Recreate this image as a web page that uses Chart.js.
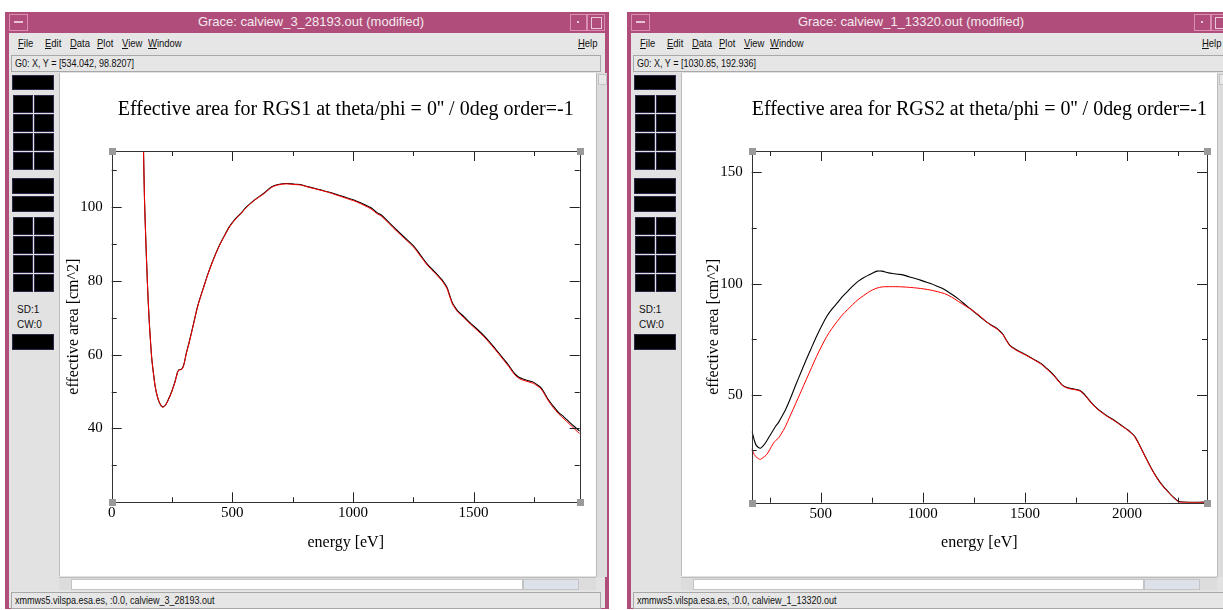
<!DOCTYPE html>
<html>
<head>
<meta charset="utf-8">
<script src="https://cdn.jsdelivr.net/npm/chart.js@4/dist/chart.umd.min.js"></script>
<style>
  body { margin: 0; width: 1223px; height: 610px; overflow: hidden; background: #fff; position: relative;
         font-family: "Liberation Sans", Arial, sans-serif; }
  .win { position: absolute; top: 12px; height: 597px; background: #b14d7a; }
  .win div, .win span, .win canvas { position: absolute; }
  .inner { left: 4px; top: 21px; height: 575px; background: #e2e2e2; }
  .btnl { left: 4px; top: 2px; width: 17px; height: 15px; border: 1px solid #d98fb0; }
  .btnl i { position: absolute; left: 4px; top: 6px; width: 9px; height: 2px; background: #e9c3d4; }
  .btnr1 { top: 2px; width: 15px; height: 15px; border: 1px solid #d98fb0; }
  .btnr1 i { position: absolute; left: 6px; top: 6px; width: 2px; height: 2px; background: #ecc8d8; }
  .btnr2 { top: 2px; width: 16px; height: 15px; border: 1px solid #d98fb0; }
  .btnr2 i { position: absolute; left: 3px; top: 2px; width: 9px; height: 10px; border: 1px solid #ecc8d8; }
  .ttl { top: 1px; line-height: 18px; font-size: 13px; color: #f3ebef; white-space: nowrap; transform: translateX(-50%); }
  .menu { left: 4px; top: 21px; height: 20px; background: #e6e6e6; font-size: 11px; line-height: 20px; color: #111; }
  .menu span { top: 0; transform: scaleX(0.86); transform-origin: left center; }
  .g0 { left: 4px; top: 42px; height: 18px; background: #e6e6e6; }
  .field { left: 2px; top: 1px; height: 15px; border: 1px solid #a8a8a8; font-size: 10px; line-height: 15px;
           padding-left: 3px; color: #111; white-space: nowrap; }
  .field span { position: static !important; display: inline-block; transform: scaleX(0.9); transform-origin: left center; }
  .tools { left: 4px; top: 60px; width: 50px; height: 519px; background: #e2e2e2; }
  .b { background: #000; border: 1px solid #2a2a48; box-sizing: border-box; }
  .lab { font-size: 10px; color: #111; }
  .cv { top: 61px; height: 503px; background: #fff; border-left: 1px solid #bbb; }
  .vs { top: 61px; height: 504px; width: 10px; background: #dcdcdc; border-left: 1px solid #bbb; }
  .vs i { position: absolute; left: 1px; top: 1px; width: 7px; height: 9px; border: 1px solid #c4c4c4; background: #e8e8e8; }
  .hs { left: 54px; top: 565px; height: 12px; background: #dcdcdc; border-top: 1px solid #bbb; }
  .trough { top: 1px; height: 9px; background: #fff; border: 1px solid #c4c4c4; }
  .thumb { top: 1px; height: 9px; background: #dde2ea; border: 1px solid #c4c4c4; }
  .foot { left: 4px; top: 579px; height: 17px; background: #e6e6e6; }
</style>
</head>
<body>

<div class="win" id="w1" style="left:5px; width:604px;"></div>
<div class="win" id="w2" style="left:627px; width:606px;"></div>

<script>
// ---- RGS1 (left window) ----
const rgs1Energy = [128, 132, 136, 142, 148, 154, 160, 166, 173, 180, 188, 198, 210, 222, 235, 248, 262, 272, 278, 290,
  298, 310, 320, 340, 356, 380, 400, 420, 444, 466, 488, 510, 532, 560, 591, 628, 664, 690, 723, 760,
  782, 810, 840, 870, 899, 930, 958, 990, 1016, 1045, 1075, 1100, 1119, 1150, 1178, 1215, 1251, 1280, 1309, 1340,
  1368, 1380, 1390, 1400, 1412, 1425, 1434, 1460, 1485, 1515, 1544, 1575, 1603, 1625, 1647, 1665, 1676, 1690, 1705, 1730,
  1749, 1765, 1779, 1795, 1808, 1830, 1852, 1875, 1896, 1920, 1940, 1951];
const rgs1Red = [125, 115, 102, 90, 79.5, 71, 64.5, 59, 55, 51.5, 49, 47, 45.8, 46.2, 47.8, 49.8, 52.5, 55, 55.8, 56,
  57, 60.5, 63, 68.5, 73, 78, 82, 85.5, 89.2, 92, 94.6, 96.5, 98, 100, 101.8, 103.5, 105.4, 106, 106.3, 106.1,
  106, 105.5, 105, 104.5, 104, 103.3, 102.7, 102, 101.4, 100.5, 99.5, 98.2, 97.5, 95.5, 93.7, 91.4, 89.2, 86.7, 84.2, 82.1,
  80.1, 79, 77.9, 76, 73.8, 72.4, 71.6, 70, 68.4, 66.6, 64.8, 62.5, 60.3, 58.5, 56.7, 55, 54.2, 53.5, 53.1, 52.6,
  52.2, 51.5, 50.8, 49.2, 47.7, 45.7, 44, 42.6, 41.3, 39.8, 38.6, 38.2];
const rgs1Black = [125, 115, 102, 90, 79.5, 71, 64.5, 59, 55, 51.5, 49, 47, 45.9, 46.3, 47.9, 49.9, 52.6, 55.1, 55.9, 56.1,
  57.1, 60.6, 63.1, 68.6, 73.1, 78.1, 82.1, 85.6, 89.3, 92.1, 94.7, 96.6, 98.1, 100.1, 101.9, 103.6, 105.5, 106.1, 106.4, 106.2,
  106.1, 105.6, 105.1, 104.6, 104.1, 103.5, 102.9, 102.2, 101.6, 100.8, 99.8, 98.5, 97.8, 95.8, 94, 91.7, 89.5, 87, 84.5, 82.4,
  80.4, 79.3, 78.2, 76.3, 74.1, 72.7, 71.9, 70.3, 68.7, 66.9, 65.1, 62.8, 60.6, 58.8, 57, 55.3, 54.5, 53.8, 53.4, 52.9,
  52.5, 51.8, 51.1, 49.5, 48, 46.1, 44.4, 43.1, 41.8, 40.4, 39.3, 38.9];
const rgs1XTicks = [0, 250, 500, 750, 1000, 1250, 1500, 1750];
const rgs1YTicks = [30, 40, 50, 60, 70, 80, 90, 100, 110];

// ---- RGS2 (right window) ----
const rgs2Energy = [162, 166, 175, 183, 195, 205, 218, 234, 250, 268, 280, 293, 305, 327, 350, 378, 405, 429, 455, 480,
  505, 530, 555, 581, 605, 632, 658, 683, 710, 734, 755, 776, 801, 825, 852, 878, 903, 935, 971, 1005,
  1038, 1070, 1106, 1140, 1174, 1208, 1242, 1275, 1309, 1335, 1360, 1378, 1394, 1410, 1428, 1445, 1462, 1488, 1513, 1547,
  1580, 1605, 1631, 1657, 1682, 1700, 1716, 1740, 1767, 1785, 1801, 1825, 1852, 1877, 1903, 1930, 1954, 1980, 2005, 2022,
  2039, 2065, 2090, 2108, 2124, 2145, 2166, 2188, 2209, 2232, 2255, 2280, 2311, 2350, 2392];
const rgs2Black = [33.5, 32.7, 29.5, 27.5, 26.3, 26, 27, 29, 31.5, 34.2, 36, 37.5, 39.5, 43.2, 48, 54.5, 60.5, 65.8, 71.2, 76.3,
  81, 85.3, 88.5, 91.3, 94, 96.5, 99, 101, 102.6, 103.8, 104.8, 105.6, 105.6, 105, 104.5, 104.2, 103.9, 103, 102.1, 101,
  100, 98.8, 97.3, 95.3, 93.1, 90.5, 88, 85.5, 83, 81.4, 80, 78.6, 77, 74.5, 72.1, 71, 70, 68.8, 67.6, 65.8,
  64, 62, 59.8, 57.2, 54.5, 53.5, 53, 52.6, 52, 50.8, 49.2, 46.5, 44, 42.2, 40.5, 39, 37.5, 35.8, 34.2, 32.8,
  31.2, 26.8, 22.2, 19, 16.2, 13, 10.2, 7.8, 5.7, 3.6, 2, 1.8, 1.7, 1.7, 1.8];
const rgs2Red = [26, 25, 23, 22.2, 21.3, 21, 21.8, 23, 25.3, 28.2, 29.5, 30.5, 32.2, 35.7, 40.5, 46.2, 51.8, 56.8, 62.2, 67.3,
  72, 76.3, 79.8, 83, 85.8, 88.3, 90.7, 92.8, 94.6, 96.1, 97.2, 98, 98.5, 98.6, 98.6, 98.6, 98.5, 98.3, 98, 97.6,
  97.1, 96.4, 95.5, 94, 92, 90, 88, 85.8, 83, 81.2, 79.8, 78.4, 76.8, 74.3, 71.9, 70.8, 69.8, 68.6, 67.4, 65.6,
  63.8, 61.8, 59.6, 57, 54.3, 53.3, 52.8, 52.4, 51.8, 50.6, 49, 46.3, 43.8, 42, 40.3, 38.8, 37.3, 35.6, 34, 32.6,
  31, 26.6, 22, 18.8, 16, 12.8, 10, 7.6, 5.5, 3.4, 1.8, 1.7, 1.6, 1.6, 1.7];
const rgs2XTicks = [250, 500, 750, 1000, 1250, 1500, 1750, 2000, 2250];
const rgs2YTicks = [25, 50, 75, 100, 125, 150];

function points(xs, ys) {
  return xs.map((x, i) => ({ x: x, y: ys[i] }));
}

// build the X/Motif window decoration around a canvas
function buildWindow(el, info) {
  const w = parseInt(el.style.width);
  let html = '';
  html += '<div class="inner" style="width:' + (w - 8) + 'px"></div>';
  html += '<div class="btnl"><i></i></div>';
  html += '<span class="ttl" style="left:' + info.titleX + 'px">' + info.title + '</span>';
  html += '<div class="btnr1" style="left:' + (w - 39) + 'px"><i></i></div>';
  html += '<div class="btnr2" style="left:' + (w - 22) + 'px"><i></i></div>';
  html += '<div class="menu" style="width:' + (w - 8) + 'px">';
  const menus = [['File', 9], ['Edit', 36], ['Data', 61], ['Plot', 88], ['View', 113], ['Window', 139]];
  menus.forEach((m) => {
    html += '<span style="left:' + m[1] + 'px"><u>' + m[0][0] + '</u>' + m[0].slice(1) + '</span>';
  });
  html += '<span style="left:' + (w - 35) + 'px"><u>H</u>elp</span></div>';
  html += '<div class="g0" style="width:' + (w - 8) + 'px"><div class="field" style="width:' + (w - 19) + 'px"><span>' + info.coords + '</span></div></div>';
  html += '<div class="tools">';
  html += '<div class="b" style="left:3px;top:3px;width:42px;height:15px"></div>';
  [23, 42, 61, 80].forEach((t) => {
    html += '<div class="b" style="left:4px;top:' + t + 'px;width:20px;height:18px"></div>';
    html += '<div class="b" style="left:25px;top:' + t + 'px;width:20px;height:18px"></div>';
  });
  html += '<div class="b" style="left:3px;top:106px;width:42px;height:16px"></div>';
  html += '<div class="b" style="left:3px;top:124px;width:42px;height:16px"></div>';
  [145, 164, 183, 202].forEach((t) => {
    html += '<div class="b" style="left:4px;top:' + t + 'px;width:20px;height:18px"></div>';
    html += '<div class="b" style="left:25px;top:' + t + 'px;width:20px;height:18px"></div>';
  });
  html += '<span class="lab" style="left:8px;top:232px">SD:1</span>';
  html += '<span class="lab" style="left:8px;top:247px">CW:0</span>';
  html += '<div class="b" style="left:3px;top:262px;width:42px;height:16px"></div>';
  html += '</div>';
  html += '<div class="cv" style="left:54px;width:' + info.cw + 'px"><canvas id="' + info.canvasId + '" width="' + info.cw + '" height="503"></canvas></div>';
  html += '<div class="vs" style="left:' + (55 + info.cw) + 'px"><i></i></div>';
  html += '<div class="hs" style="width:' + (info.cw + 1) + 'px">';
  html += '<div class="trough" style="left:12px;width:' + (info.cw - 86) + 'px"></div>';
  html += '<div class="thumb" style="left:' + (info.cw - 72) + 'px;width:54px"></div></div>';
  html += '<div class="foot" style="width:' + (w - 8) + 'px"><div class="field" style="width:' + (w - 19) + 'px"><span>' + info.foot + '</span></div></div>';
  el.innerHTML = html;
}

// Grace style frame: inward ticks on all four sides, corner handles
const graceFrame = {
  id: 'graceFrame',
  afterDatasetsDraw(chart, args, opts) {
    const ctx = chart.ctx;
    const a = chart.chartArea;
    const x = chart.scales.x;
    const y = chart.scales.y;
    ctx.save();
    ctx.strokeStyle = '#222';
    ctx.lineWidth = 1;
    ctx.beginPath();
    x.ticks.forEach((t) => {
      const px = Math.round(x.getPixelForValue(t.value)) + 0.5;
      const len = t.value % opts.xMajor === 0 ? 10 : 5;
      ctx.moveTo(px, a.bottom); ctx.lineTo(px, a.bottom - len);
      ctx.moveTo(px, a.top); ctx.lineTo(px, a.top + len);
    });
    y.ticks.forEach((t) => {
      const py = Math.round(y.getPixelForValue(t.value)) + 0.5;
      const len = t.value % opts.yMajor === 0 ? 10 : 5;
      ctx.moveTo(a.left, py); ctx.lineTo(a.left + len, py);
      ctx.moveTo(a.right, py); ctx.lineTo(a.right - len, py);
    });
    ctx.stroke();
    ctx.strokeStyle = '#333';
    ctx.strokeRect(Math.round(a.left) + 0.5, Math.round(a.top) + 0.5,
      Math.round(a.right) - Math.round(a.left), Math.round(a.bottom) - Math.round(a.top));
    ctx.fillStyle = '#9a9a9a';
    [[a.left, a.top], [a.right, a.top], [a.left, a.bottom], [a.right, a.bottom]].forEach((c) => {
      ctx.fillRect(Math.round(c[0]) - 3, Math.round(c[1]) - 3, 7, 7);
    });
    ctx.restore();
  }
};

function makeChart(canvas, cfg) {
  const serif = 'Liberation Serif, Times New Roman, serif';
  return new Chart(canvas.getContext('2d'), {
    type: 'line',
    data: {
      datasets: [
        {
          label: 'red',
          data: points(cfg.energy, cfg.red),
          borderColor: '#ff0000',
          borderWidth: 1,
          pointRadius: 0,
          tension: 0.3,
          order: 1,
        },
        {
          label: 'black',
          data: points(cfg.energy, cfg.black),
          borderColor: '#000000',
          borderWidth: 1.1,
          pointRadius: 0,
          tension: 0.3,
          order: 2,
        },
      ],
    },
    options: {
      responsive: false,
      animation: false,
      devicePixelRatio: 1,
      layout: { padding: cfg.padding },
      plugins: {
        legend: { display: false },
        tooltip: { enabled: false },
        title: {
          display: true,
          text: cfg.title,
          fullSize: false,
          color: '#000',
          font: { family: serif, size: 20, weight: 'normal', lineHeight: 1.2 },
          padding: { top: 25, bottom: 29 },
        },
        graceFrame: { xMajor: cfg.xMajor, yMajor: cfg.yMajor },
      },
      scales: {
        x: {
          type: 'linear',
          min: cfg.xMin,
          max: cfg.xMax,
          afterBuildTicks: (scale) => { scale.ticks = cfg.xTicks.map((v) => ({ value: v })); },
          afterFit: (scale) => { scale.height = cfg.xHeight; },
          grid: { display: false, drawTicks: false },
          border: { display: false },
          ticks: {
            autoSkip: false,
            maxRotation: 0,
            padding: 2,
            color: '#000',
            font: { family: serif, size: 15 },
            callback: (v) => (v % cfg.xMajor === 0 ? v : ''),
          },
          title: {
            display: true,
            text: 'energy [eV]',
            color: '#000',
            font: { family: serif, size: 16 },
            padding: { top: 4, bottom: 24 },
          },
        },
        y: {
          type: 'linear',
          min: cfg.yMin,
          max: cfg.yMax,
          afterBuildTicks: (scale) => { scale.ticks = cfg.yTicks.map((v) => ({ value: v })); },
          afterFit: (scale) => { scale.width = cfg.yWidth; },
          grid: { display: false, drawTicks: false },
          border: { display: false },
          ticks: {
            autoSkip: false,
            padding: 9,
            color: '#000',
            font: { family: serif, size: 15 },
            callback: (v) => (v % cfg.yMajor === 0 ? v : ''),
          },
          title: {
            display: true,
            text: 'effective area [cm^2]',
            color: '#000',
            font: { family: serif, size: 16 },
            padding: { top: 4, bottom: 4 },
          },
        },
      },
    },
    plugins: [graceFrame],
  });
}

function main() {
  buildWindow(document.querySelector('#w1'), {
    title: 'Grace: calview_3_28193.out (modified)',
    titleX: 306,
    coords: 'G0: X, Y = [534.042, 98.8207]',
    foot: 'xmmws5.vilspa.esa.es, :0.0, calview_3_28193.out',
    canvasId: 'rgs1',
    cw: 536,
  });
  buildWindow(document.querySelector('#w2'), {
    title: 'Grace: calview_1_13320.out (modified)',
    titleX: 284,
    coords: 'G0: X, Y = [1030.85, 192.936]',
    foot: 'xmmws5.vilspa.esa.es, :0.0, calview_1_13320.out',
    canvasId: 'rgs2',
    cw: 535,
  });

  makeChart(document.querySelector('#rgs1'), {
    title: "Effective area for RGS1 at theta/phi = 0'' / 0deg order=-1",
    energy: rgs1Energy, red: rgs1Red, black: rgs1Black,
    xTicks: rgs1XTicks, yTicks: rgs1YTicks,
    xMin: 0, xMax: 1940, yMin: 20, yMax: 115.2,
    xMajor: 500, yMajor: 20,
    padding: { left: 0, top: 0, right: 16.3, bottom: 0 },
    yWidth: 51.7, xHeight: 73.7,
  });

  makeChart(document.querySelector('#rgs2'), {
    title: "Effective area for RGS2 at theta/phi = 0'' / 0deg order=-1",
    energy: rgs2Energy, red: rgs2Red, black: rgs2Black,
    xTicks: rgs2XTicks, yTicks: rgs2YTicks,
    xMin: 162, xMax: 2392, yMin: 1.5, yMax: 159.6,
    xMajor: 500, yMajor: 50,
    padding: { left: 18.4, top: 0, right: 10, bottom: 0 },
    yWidth: 51.3, xHeight: 73.3,
  });
}

main();
</script>
</body>
</html>
